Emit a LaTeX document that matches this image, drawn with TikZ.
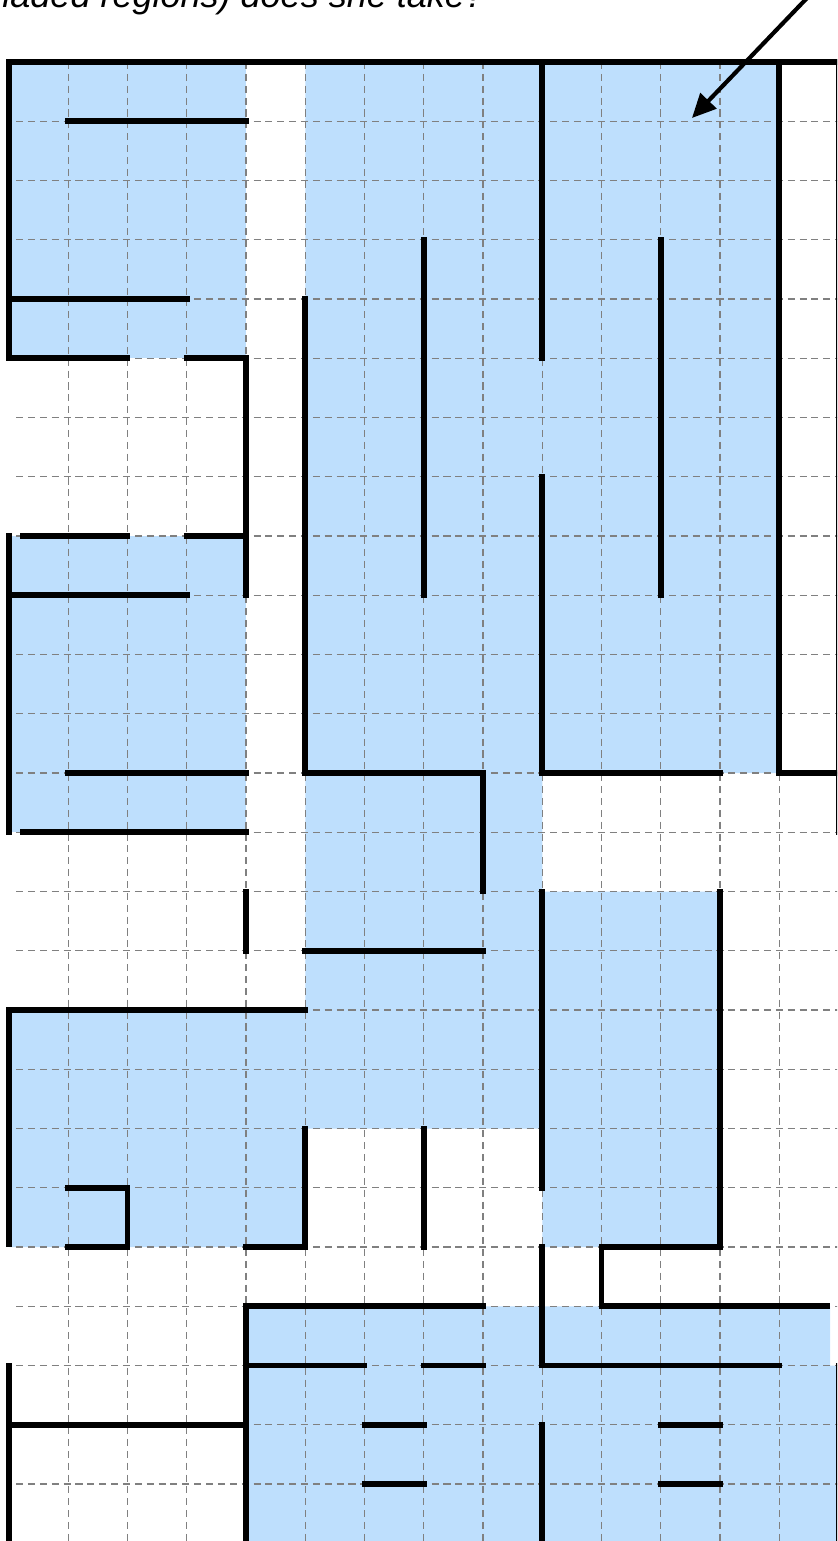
\documentclass[tikz,border=0pt]{standalone}
\usepackage{fontspec}
\setmainfont{Liberation Sans}
\usetikzlibrary{arrows.meta}
\definecolor{shade}{RGB}{190,223,253}
\definecolor{gridgray}{RGB}{128,128,128}
\begin{document}
\begin{tikzpicture}[x=1cm,y=-1cm,
  wall/.style={line width=2.8pt, line cap=rect, line join=miter, black},
  gridline/.style={gridgray, line width=0.55pt, dash pattern=on 3.4pt off 2.3pt},
  region/.style={fill=shade, draw=none},
  pointer/.style={line width=2pt, black, -{Triangle[length=11.5pt,width=10.5pt]}}]
\useasboundingbox (-0.1519,-1.0464) rectangle (13.975,24.962);
\clip (-0.1519,-1.0464) rectangle (13.975,24.962);
% question text (cut off at the top)
\node[anchor=base west, inner sep=0pt, font=\fontsize{17.3pt}{20pt}\selectfont\itshape] (question) at (-0.321,-0.920) {haded regions) does she take?};
% shaded regions
\fill[region] (0,0) rectangle (4,5);
\fill[region] (5,0) -- (5,16) -- (0,16) -- (0,20) -- (5,20) -- (5,18) -- (9,18) -- (9,20) -- (12,20) -- (12,14) -- (9,14) -- (9,12) -- (13,12) -- (13,0) -- cycle;
\fill[region] (0,8) rectangle (4,13);
\fill[region] (4,21) -- (13.86,21) -- (13.86,22) -- (14.2,22) -- (14.2,25.2) -- (4,25.2) -- cycle;
% dashed grid
\foreach \i in {1,...,13} {\draw[gridline] (\i,0) -- (\i,25.2);}
\foreach \j in {1,...,24} {\draw[gridline] (0.12,\j) -- (14.2,\j);}
% border walls
\draw[wall] (0,0) -- (14.2,0);
\draw[wall] (0,0) -- (0,5);
\draw[wall] (0,8) -- (0,13);
\draw[wall] (0,16) -- (0,19.95);
\draw[wall] (0,22) -- (0,25.2);
\draw[wall] (13,0) -- (13,12) -- (14,12);
\draw[wall] (14,0) -- (14,13);
\draw[wall] (14,22) -- (14,25.2);
% interior walls
\draw[wall] (1,1) -- (4,1);
\draw[wall] (9,0) -- (9,5);
\draw[wall] (9,7) -- (9,12) -- (12,12);
\draw[wall] (7,3) -- (7,9);
\draw[wall] (11,3) -- (11,9);
\draw[wall] (0,4) -- (3,4);
\draw[wall] (5,4) -- (5,12) -- (8,12) -- (8,14);
\draw[wall] (0,5) -- (2,5);
\draw[wall] (3,5) -- (4,5) -- (4,9);
\draw[wall] (0.23,8) -- (2,8);
\draw[wall] (3,8) -- (4,8);
\draw[wall] (0,9) -- (3,9);
\draw[wall] (1,12) -- (4,12);
\draw[wall] (0.23,13) -- (4,13);
\draw[wall] (4,14) -- (4,15);
\draw[wall] (5,15) -- (8,15);
\draw[wall] (9,14) -- (9,19);
\draw[wall] (12,14) -- (12,20) -- (10,20) -- (10,21) -- (13.81,21);
\draw[wall] (0,16) -- (5,16);
\draw[wall] (5,18) -- (5,20) -- (4,20);
\draw[wall] (7,18) -- (7,20);
\draw[wall] (1,19) -- (2,19) -- (2,20) -- (1,20);
\draw[wall] (8,21) -- (4,21) -- (4,25.2);
\draw[wall] (9,20) -- (9,22) -- (13,22);
\draw[wall] (4,22) -- (6,22);
\draw[wall] (7,22) -- (8,22);
\draw[wall] (0,23) -- (4,23);
\draw[wall] (6,23) -- (7,23);
\draw[wall] (6,24) -- (7,24);
\draw[wall] (11,23) -- (12,23);
\draw[wall] (11,24) -- (12,24);
\draw[wall] (9,23) -- (9,25.2);
% arrow
\coordinate (arrowstart) at (13.485,-1.097);
\coordinate (arrowtip) at (11.527,0.945);
\draw[pointer] (arrowstart) -- (arrowtip);
\end{tikzpicture}
\end{document}
